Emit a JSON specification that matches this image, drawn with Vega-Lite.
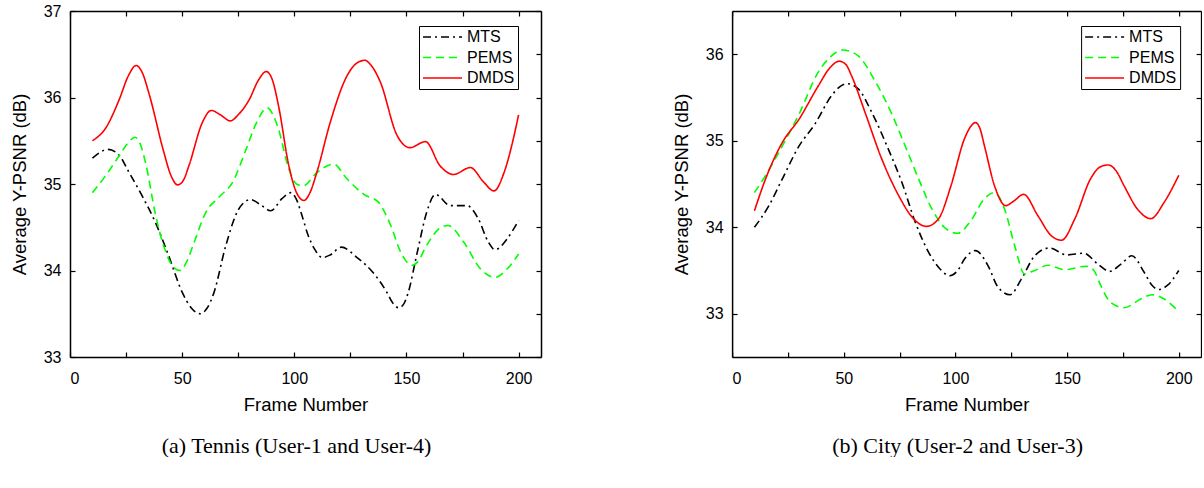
{
  "$schema": "https://vega.github.io/schema/vega-lite/v6.json",
  "padding": {"left": 10, "top": 3, "right": 0, "bottom": 0},
  "background": "white",
  "spacing": 130.1,
  "datasets": {
    "left": [
      {"frame": 10, "value": 35.30, "method": "MTS"},
      {"frame": 17, "value": 35.40, "method": "MTS"},
      {"frame": 22, "value": 35.33, "method": "MTS"},
      {"frame": 26, "value": 35.15, "method": "MTS"},
      {"frame": 32, "value": 34.87, "method": "MTS"},
      {"frame": 38, "value": 34.56, "method": "MTS"},
      {"frame": 44, "value": 34.17, "method": "MTS"},
      {"frame": 50, "value": 33.75, "method": "MTS"},
      {"frame": 54, "value": 33.57, "method": "MTS"},
      {"frame": 58, "value": 33.50, "method": "MTS"},
      {"frame": 61, "value": 33.56, "method": "MTS"},
      {"frame": 64, "value": 33.73, "method": "MTS"},
      {"frame": 69.5, "value": 34.29, "method": "MTS"},
      {"frame": 75, "value": 34.70, "method": "MTS"},
      {"frame": 80.5, "value": 34.82, "method": "MTS"},
      {"frame": 85, "value": 34.76, "method": "MTS"},
      {"frame": 89.5, "value": 34.69, "method": "MTS"},
      {"frame": 94.5, "value": 34.83, "method": "MTS"},
      {"frame": 98.5, "value": 34.90, "method": "MTS"},
      {"frame": 101, "value": 34.82, "method": "MTS"},
      {"frame": 103.5, "value": 34.63, "method": "MTS"},
      {"frame": 106, "value": 34.42, "method": "MTS"},
      {"frame": 109, "value": 34.25, "method": "MTS"},
      {"frame": 112.5, "value": 34.15, "method": "MTS"},
      {"frame": 116, "value": 34.18, "method": "MTS"},
      {"frame": 121, "value": 34.27, "method": "MTS"},
      {"frame": 128, "value": 34.15, "method": "MTS"},
      {"frame": 135, "value": 33.98, "method": "MTS"},
      {"frame": 141, "value": 33.76, "method": "MTS"},
      {"frame": 144, "value": 33.62, "method": "MTS"},
      {"frame": 146.5, "value": 33.57, "method": "MTS"},
      {"frame": 148.5, "value": 33.60, "method": "MTS"},
      {"frame": 150.5, "value": 33.72, "method": "MTS"},
      {"frame": 155, "value": 34.23, "method": "MTS"},
      {"frame": 159, "value": 34.67, "method": "MTS"},
      {"frame": 163, "value": 34.88, "method": "MTS"},
      {"frame": 169.5, "value": 34.75, "method": "MTS"},
      {"frame": 177, "value": 34.75, "method": "MTS"},
      {"frame": 182, "value": 34.60, "method": "MTS"},
      {"frame": 186.5, "value": 34.33, "method": "MTS"},
      {"frame": 189.5, "value": 34.24, "method": "MTS"},
      {"frame": 195, "value": 34.37, "method": "MTS"},
      {"frame": 200, "value": 34.58, "method": "MTS"},

      {"frame": 10, "value": 34.90, "method": "PEMS"},
      {"frame": 16, "value": 35.10, "method": "PEMS"},
      {"frame": 22, "value": 35.33, "method": "PEMS"},
      {"frame": 26, "value": 35.48, "method": "PEMS"},
      {"frame": 29, "value": 35.54, "method": "PEMS"},
      {"frame": 31.5, "value": 35.45, "method": "PEMS"},
      {"frame": 34, "value": 35.21, "method": "PEMS"},
      {"frame": 38, "value": 34.66, "method": "PEMS"},
      {"frame": 42.5, "value": 34.23, "method": "PEMS"},
      {"frame": 46, "value": 34.04, "method": "PEMS"},
      {"frame": 49, "value": 34.00, "method": "PEMS"},
      {"frame": 52, "value": 34.10, "method": "PEMS"},
      {"frame": 55, "value": 34.30, "method": "PEMS"},
      {"frame": 60.5, "value": 34.67, "method": "PEMS"},
      {"frame": 66.5, "value": 34.85, "method": "PEMS"},
      {"frame": 72.5, "value": 35.02, "method": "PEMS"},
      {"frame": 78.5, "value": 35.40, "method": "PEMS"},
      {"frame": 83, "value": 35.70, "method": "PEMS"},
      {"frame": 88, "value": 35.88, "method": "PEMS"},
      {"frame": 90.5, "value": 35.80, "method": "PEMS"},
      {"frame": 93, "value": 35.63, "method": "PEMS"},
      {"frame": 97.5, "value": 35.18, "method": "PEMS"},
      {"frame": 101, "value": 35.00, "method": "PEMS"},
      {"frame": 104, "value": 34.98, "method": "PEMS"},
      {"frame": 110, "value": 35.13, "method": "PEMS"},
      {"frame": 117.5, "value": 35.23, "method": "PEMS"},
      {"frame": 123.5, "value": 35.06, "method": "PEMS"},
      {"frame": 131, "value": 34.88, "method": "PEMS"},
      {"frame": 137.5, "value": 34.79, "method": "PEMS"},
      {"frame": 143, "value": 34.52, "method": "PEMS"},
      {"frame": 147.5, "value": 34.21, "method": "PEMS"},
      {"frame": 152.5, "value": 34.06, "method": "PEMS"},
      {"frame": 155, "value": 34.10, "method": "PEMS"},
      {"frame": 159, "value": 34.29, "method": "PEMS"},
      {"frame": 164, "value": 34.47, "method": "PEMS"},
      {"frame": 168.5, "value": 34.52, "method": "PEMS"},
      {"frame": 175.5, "value": 34.33, "method": "PEMS"},
      {"frame": 183, "value": 34.02, "method": "PEMS"},
      {"frame": 189.5, "value": 33.92, "method": "PEMS"},
      {"frame": 195, "value": 34.02, "method": "PEMS"},
      {"frame": 200, "value": 34.19, "method": "PEMS"},

      {"frame": 10, "value": 35.50, "method": "DMDS"},
      {"frame": 16, "value": 35.65, "method": "DMDS"},
      {"frame": 22, "value": 35.98, "method": "DMDS"},
      {"frame": 26, "value": 36.25, "method": "DMDS"},
      {"frame": 29.5, "value": 36.37, "method": "DMDS"},
      {"frame": 32, "value": 36.30, "method": "DMDS"},
      {"frame": 35.5, "value": 36.02, "method": "DMDS"},
      {"frame": 41.5, "value": 35.40, "method": "DMDS"},
      {"frame": 45, "value": 35.10, "method": "DMDS"},
      {"frame": 48, "value": 34.99, "method": "DMDS"},
      {"frame": 50.5, "value": 35.04, "method": "DMDS"},
      {"frame": 53, "value": 35.21, "method": "DMDS"},
      {"frame": 59, "value": 35.71, "method": "DMDS"},
      {"frame": 63, "value": 35.85, "method": "DMDS"},
      {"frame": 67, "value": 35.80, "method": "DMDS"},
      {"frame": 71.5, "value": 35.73, "method": "DMDS"},
      {"frame": 75, "value": 35.80, "method": "DMDS"},
      {"frame": 80, "value": 35.98, "method": "DMDS"},
      {"frame": 84, "value": 36.20, "method": "DMDS"},
      {"frame": 87.5, "value": 36.30, "method": "DMDS"},
      {"frame": 90, "value": 36.22, "method": "DMDS"},
      {"frame": 93, "value": 35.90, "method": "DMDS"},
      {"frame": 97.5, "value": 35.22, "method": "DMDS"},
      {"frame": 101, "value": 34.90, "method": "DMDS"},
      {"frame": 104.3, "value": 34.81, "method": "DMDS"},
      {"frame": 107, "value": 34.90, "method": "DMDS"},
      {"frame": 110, "value": 35.13, "method": "DMDS"},
      {"frame": 116, "value": 35.71, "method": "DMDS"},
      {"frame": 123.5, "value": 36.25, "method": "DMDS"},
      {"frame": 128, "value": 36.40, "method": "DMDS"},
      {"frame": 131.5, "value": 36.43, "method": "DMDS"},
      {"frame": 134, "value": 36.38, "method": "DMDS"},
      {"frame": 138.5, "value": 36.17, "method": "DMDS"},
      {"frame": 145.5, "value": 35.58, "method": "DMDS"},
      {"frame": 151.5, "value": 35.42, "method": "DMDS"},
      {"frame": 158.5, "value": 35.49, "method": "DMDS"},
      {"frame": 165, "value": 35.21, "method": "DMDS"},
      {"frame": 171, "value": 35.11, "method": "DMDS"},
      {"frame": 178.5, "value": 35.19, "method": "DMDS"},
      {"frame": 184.5, "value": 35.02, "method": "DMDS"},
      {"frame": 189, "value": 34.92, "method": "DMDS"},
      {"frame": 193.5, "value": 35.13, "method": "DMDS"},
      {"frame": 198, "value": 35.56, "method": "DMDS"},
      {"frame": 200, "value": 35.80, "method": "DMDS"}
    ],
    "right": [
      {"frame": 10, "value": 34.00, "method": "MTS"},
      {"frame": 16.5, "value": 34.25, "method": "MTS"},
      {"frame": 22.5, "value": 34.56, "method": "MTS"},
      {"frame": 30, "value": 34.94, "method": "MTS"},
      {"frame": 37, "value": 35.19, "method": "MTS"},
      {"frame": 44.5, "value": 35.52, "method": "MTS"},
      {"frame": 48, "value": 35.62, "method": "MTS"},
      {"frame": 51.5, "value": 35.66, "method": "MTS"},
      {"frame": 56.5, "value": 35.60, "method": "MTS"},
      {"frame": 62.5, "value": 35.33, "method": "MTS"},
      {"frame": 70, "value": 34.90, "method": "MTS"},
      {"frame": 76, "value": 34.52, "method": "MTS"},
      {"frame": 82, "value": 34.06, "method": "MTS"},
      {"frame": 88, "value": 33.71, "method": "MTS"},
      {"frame": 93, "value": 33.52, "method": "MTS"},
      {"frame": 97.5, "value": 33.44, "method": "MTS"},
      {"frame": 101, "value": 33.50, "method": "MTS"},
      {"frame": 104, "value": 33.63, "method": "MTS"},
      {"frame": 109, "value": 33.73, "method": "MTS"},
      {"frame": 114.5, "value": 33.56, "method": "MTS"},
      {"frame": 119, "value": 33.31, "method": "MTS"},
      {"frame": 124.5, "value": 33.22, "method": "MTS"},
      {"frame": 129.5, "value": 33.40, "method": "MTS"},
      {"frame": 135.5, "value": 33.67, "method": "MTS"},
      {"frame": 142, "value": 33.76, "method": "MTS"},
      {"frame": 150, "value": 33.68, "method": "MTS"},
      {"frame": 157.5, "value": 33.70, "method": "MTS"},
      {"frame": 163.5, "value": 33.58, "method": "MTS"},
      {"frame": 169, "value": 33.49, "method": "MTS"},
      {"frame": 174, "value": 33.57, "method": "MTS"},
      {"frame": 179, "value": 33.67, "method": "MTS"},
      {"frame": 184.5, "value": 33.48, "method": "MTS"},
      {"frame": 188, "value": 33.33, "method": "MTS"},
      {"frame": 191, "value": 33.28, "method": "MTS"},
      {"frame": 195, "value": 33.33, "method": "MTS"},
      {"frame": 200, "value": 33.50, "method": "MTS"},

      {"frame": 10, "value": 34.40, "method": "PEMS"},
      {"frame": 15, "value": 34.60, "method": "PEMS"},
      {"frame": 22.5, "value": 34.94, "method": "PEMS"},
      {"frame": 30, "value": 35.31, "method": "PEMS"},
      {"frame": 38.5, "value": 35.79, "method": "PEMS"},
      {"frame": 44, "value": 35.97, "method": "PEMS"},
      {"frame": 49.5, "value": 36.05, "method": "PEMS"},
      {"frame": 56.5, "value": 35.98, "method": "PEMS"},
      {"frame": 64, "value": 35.69, "method": "PEMS"},
      {"frame": 71.5, "value": 35.31, "method": "PEMS"},
      {"frame": 77.5, "value": 34.94, "method": "PEMS"},
      {"frame": 83.5, "value": 34.56, "method": "PEMS"},
      {"frame": 89.5, "value": 34.21, "method": "PEMS"},
      {"frame": 95, "value": 34.00, "method": "PEMS"},
      {"frame": 101, "value": 33.93, "method": "PEMS"},
      {"frame": 107, "value": 34.08, "method": "PEMS"},
      {"frame": 113, "value": 34.33, "method": "PEMS"},
      {"frame": 117.5, "value": 34.40, "method": "PEMS"},
      {"frame": 122, "value": 34.21, "method": "PEMS"},
      {"frame": 126.5, "value": 33.79, "method": "PEMS"},
      {"frame": 131, "value": 33.46, "method": "PEMS"},
      {"frame": 135.5, "value": 33.50, "method": "PEMS"},
      {"frame": 141.5, "value": 33.56, "method": "PEMS"},
      {"frame": 149, "value": 33.51, "method": "PEMS"},
      {"frame": 158.5, "value": 33.55, "method": "PEMS"},
      {"frame": 162, "value": 33.50, "method": "PEMS"},
      {"frame": 165, "value": 33.33, "method": "PEMS"},
      {"frame": 169.5, "value": 33.13, "method": "PEMS"},
      {"frame": 175.5, "value": 33.07, "method": "PEMS"},
      {"frame": 183, "value": 33.17, "method": "PEMS"},
      {"frame": 188, "value": 33.22, "method": "PEMS"},
      {"frame": 193.5, "value": 33.17, "method": "PEMS"},
      {"frame": 199, "value": 33.05, "method": "PEMS"},

      {"frame": 10, "value": 34.19, "method": "DMDS"},
      {"frame": 15, "value": 34.56, "method": "DMDS"},
      {"frame": 22.5, "value": 34.98, "method": "DMDS"},
      {"frame": 30, "value": 35.25, "method": "DMDS"},
      {"frame": 38.5, "value": 35.63, "method": "DMDS"},
      {"frame": 44, "value": 35.85, "method": "DMDS"},
      {"frame": 48, "value": 35.92, "method": "DMDS"},
      {"frame": 51, "value": 35.88, "method": "DMDS"},
      {"frame": 53.5, "value": 35.75, "method": "DMDS"},
      {"frame": 59.5, "value": 35.33, "method": "DMDS"},
      {"frame": 67, "value": 34.79, "method": "DMDS"},
      {"frame": 74.5, "value": 34.37, "method": "DMDS"},
      {"frame": 80.5, "value": 34.12, "method": "DMDS"},
      {"frame": 87, "value": 34.01, "method": "DMDS"},
      {"frame": 92.5, "value": 34.10, "method": "DMDS"},
      {"frame": 98, "value": 34.48, "method": "DMDS"},
      {"frame": 104, "value": 35.02, "method": "DMDS"},
      {"frame": 107, "value": 35.17, "method": "DMDS"},
      {"frame": 109, "value": 35.21, "method": "DMDS"},
      {"frame": 111, "value": 35.14, "method": "DMDS"},
      {"frame": 113, "value": 34.94, "method": "DMDS"},
      {"frame": 117.5, "value": 34.48, "method": "DMDS"},
      {"frame": 122.5, "value": 34.25, "method": "DMDS"},
      {"frame": 126, "value": 34.30, "method": "DMDS"},
      {"frame": 130.5, "value": 34.38, "method": "DMDS"},
      {"frame": 137, "value": 34.13, "method": "DMDS"},
      {"frame": 143, "value": 33.90, "method": "DMDS"},
      {"frame": 147.5, "value": 33.85, "method": "DMDS"},
      {"frame": 153.5, "value": 34.10, "method": "DMDS"},
      {"frame": 160.5, "value": 34.56, "method": "DMDS"},
      {"frame": 165, "value": 34.70, "method": "DMDS"},
      {"frame": 168.5, "value": 34.72, "method": "DMDS"},
      {"frame": 172, "value": 34.65, "method": "DMDS"},
      {"frame": 175.5, "value": 34.48, "method": "DMDS"},
      {"frame": 181.5, "value": 34.21, "method": "DMDS"},
      {"frame": 187.5, "value": 34.10, "method": "DMDS"},
      {"frame": 193.5, "value": 34.29, "method": "DMDS"},
      {"frame": 200, "value": 34.60, "method": "DMDS"}
    ]
  },
  "config": {
    "font": "Liberation Sans",
    "view": {"stroke": null},
    "axis": {
      "grid": false,
      "domainColor": "black",
      "domainWidth": 1.5,
      "tickColor": "black",
      "tickWidth": 1.2,
      "tickSize": -5,
      "labelFont": "Liberation Sans",
      "labelFontSize": 16,
      "labelColor": "black",
      "titleFont": "Liberation Sans",
      "titleFontSize": 18.5,
      "titleFontWeight": "normal",
      "titleColor": "black"
    },
    "legend": {
      "orient": "none",
      "legendX": 349,
      "legendY": 15,
      "title": null,
      "symbolType": "stroke",
      "symbolSize": 1521,
      "symbolStrokeWidth": 1.6,
      "clipHeight": 16,
      "labelFont": "Liberation Sans",
      "labelFontSize": 16,
      "labelColor": "black",
      "labelOffset": 4,
      "rowPadding": 4.5,
      "padding": 3,
      "strokeColor": "black",
      "fillColor": "white",
      "cornerRadius": 0
    },
    "title": {
      "font": "Liberation Serif",
      "fontSize": 22,
      "fontWeight": "normal",
      "color": "black"
    }
  },
  "hconcat": [
    {
      "width": 471,
      "height": 346,
      "title": {"text": "(a) Tennis (User-1 and User-4)", "orient": "bottom", "frame": "group", "anchor": "middle", "dx": -9, "offset": 22},
      "resolve": {"axis": {"x": "independent", "y": "independent"}},
      "layer": [
        {
          "data": {"name": "left"},
          "mark": {"type": "line", "interpolate": "monotone", "strokeWidth": 1.6},
          "encoding": {
            "x": {"field": "frame", "type": "quantitative", "scale": {"domain": [0, 210], "nice": false},
                  "axis": {"orient": "bottom", "format": "d", "values": [0,25,50,75,100,125,150,175,200], "labelExpr": "datum.value % 50 === 0 ? datum.label : ''", "labelPadding": 18, "title": "Frame Number", "titlePadding": 9}},
            "y": {"field": "value", "type": "quantitative", "scale": {"domain": [33, 37], "nice": false, "zero": false},
                  "axis": {"orient": "left", "format": "d", "values": [33,33.5,34,34.5,35,35.5,36,36.5,37], "labelExpr": "datum.value % 1 === 0 ? datum.label : ''", "labelPadding": 14, "title": "Average Y-PSNR (dB)", "titlePadding": 14}},
            "color": {"field": "method", "type": "nominal", "scale": {"domain": ["MTS", "PEMS", "DMDS"], "range": ["#000000", "#00ff00", "#ff0000"]}},
            "strokeDash": {"field": "method", "type": "nominal", "scale": {"domain": ["MTS", "PEMS", "DMDS"], "range": [[8, 4, 2, 4], [8, 5], [1, 0]]}}
          }
        },
        {
          "data": {"name": "left"},
          "mark": {"type": "line", "opacity": 0},
          "encoding": {
            "x": {"field": "frame", "type": "quantitative", "scale": {"domain": [0, 210], "nice": false},
                  "axis": {"orient": "top", "values": [0,25,50,75,100,125,150,175,200], "labels": false, "title": null}},
            "y": {"field": "value", "type": "quantitative", "scale": {"domain": [33, 37], "nice": false, "zero": false},
                  "axis": {"orient": "right", "values": [33,33.5,34,34.5,35,35.5,36,36.5,37], "labels": false, "title": null}}
          }
        }
      ]
    },
    {
      "width": 469,
      "height": 346,
      "title": {"text": "(b) City (User-2 and User-3)", "orient": "bottom", "frame": "group", "anchor": "middle", "dx": -9, "offset": 22},
      "resolve": {"axis": {"x": "independent", "y": "independent"}},
      "layer": [
        {
          "data": {"name": "right"},
          "mark": {"type": "line", "interpolate": "monotone", "strokeWidth": 1.6},
          "encoding": {
            "x": {"field": "frame", "type": "quantitative", "scale": {"domain": [0, 210], "nice": false},
                  "axis": {"orient": "bottom", "format": "d", "values": [0,25,50,75,100,125,150,175,200], "labelExpr": "datum.value % 50 === 0 ? datum.label : ''", "labelPadding": 18, "title": "Frame Number", "titlePadding": 9}},
            "y": {"field": "value", "type": "quantitative", "scale": {"domain": [32.5, 36.5], "nice": false, "zero": false},
                  "axis": {"orient": "left", "format": "d", "values": [33,33.5,34,34.5,35,35.5,36], "labelExpr": "datum.value % 1 === 0 ? datum.label : ''", "labelPadding": 14, "title": "Average Y-PSNR (dB)", "titlePadding": 14}},
            "color": {"field": "method", "type": "nominal", "scale": {"domain": ["MTS", "PEMS", "DMDS"], "range": ["#000000", "#00ff00", "#ff0000"]}},
            "strokeDash": {"field": "method", "type": "nominal", "scale": {"domain": ["MTS", "PEMS", "DMDS"], "range": [[8, 4, 2, 4], [8, 5], [1, 0]]}}
          }
        },
        {
          "data": {"name": "right"},
          "mark": {"type": "line", "opacity": 0},
          "encoding": {
            "x": {"field": "frame", "type": "quantitative", "scale": {"domain": [0, 210], "nice": false},
                  "axis": {"orient": "top", "values": [0,25,50,75,100,125,150,175,200], "labels": false, "title": null}},
            "y": {"field": "value", "type": "quantitative", "scale": {"domain": [32.5, 36.5], "nice": false, "zero": false},
                  "axis": {"orient": "right", "values": [33,33.5,34,34.5,35,35.5,36], "labels": false, "title": null}}
          }
        }
      ]
    }
  ],
  "resolve": {"scale": {"color": "independent", "strokeDash": "independent"}, "legend": {"color": "independent", "strokeDash": "independent"}}
}
